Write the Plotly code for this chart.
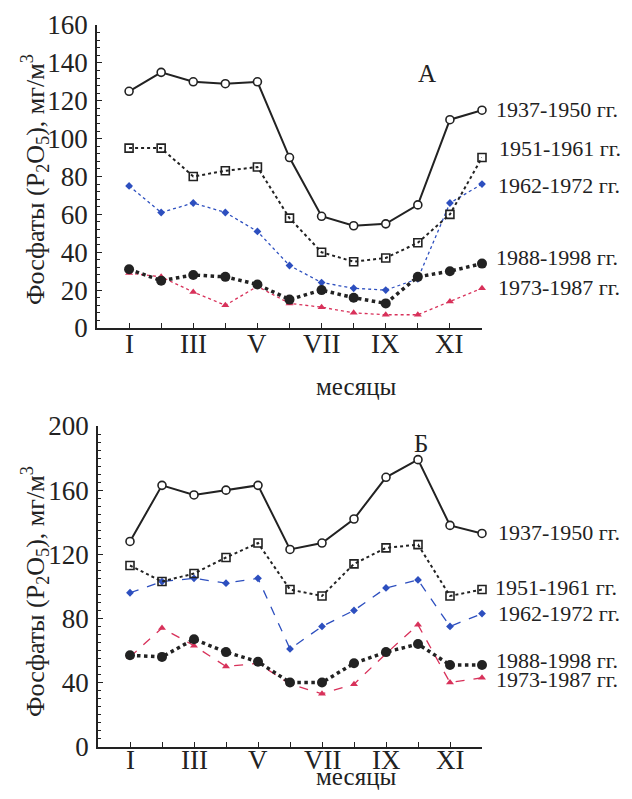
import plotly.graph_objects as go

PAGE_W, PAGE_H = 632, 799
OFF = 8  # default body margin of the html page
W, H = PAGE_W - 2 * OFF, PAGE_H - 2 * OFF

months = list(range(1, 13))
month_labels = ["I", "", "III", "", "V", "", "VII", "", "IX", "", "XI", ""]

# Panel A
a_1937 = [125, 135, 130, 129, 130, 90, 59, 54, 55, 65, 110, 115]
a_1951 = [95, 95, 80, 83, 85, 58, 40, 35, 37, 45, 60, 90]
a_1962 = [75, 61, 66, 61, 51, 33, 24, 21, 20, 26, 66, 76]
a_1988 = [31, 25, 28, 27, 23, 15, 20, 16, 13, 27, 30, 34]
a_1973 = [29, 27, 19, 12, 22, 13, 11, 8, 7, 7, 14, 21]

# Panel Б
b_1937 = [128, 163, 157, 160, 163, 123, 127, 142, 168, 179, 138, 133]
b_1951 = [113, 103, 108, 118, 127, 98, 94, 114, 124, 126, 94, 98]
b_1962 = [96, 103, 105, 102, 105, 61, 75, 85, 99, 104, 75, 83]
b_1988 = [57, 56, 67, 59, 53, 40, 40, 52, 59, 64, 51, 51]
b_1973 = [56, 74, 63, 50, 52, 39, 33, 39, 58, 76, 40, 43]

series_names = ["1937-1950 гг.", "1951-1961 гг.", "1962-1972 гг.", "1988-1998 гг.", "1973-1987 гг."]

FONT = "Liberation Serif"
BLUE = "#2d4fbf"
RED = "#d8315a"
BLK = "#222222"


def px(x):
    return (x - OFF) / W


def py(y):
    return 1 - (y - OFF) / H


fig = go.Figure()


def add_panel(xa, ya, data, dashed):
    s1937, s1951, s1962, s1988, s1973 = data
    thin_dash = "dash" if dashed else "dot"
    common = dict(x=months, xaxis=xa, yaxis=ya, mode="lines+markers",
                  showlegend=False, cliponaxis=False)
    fig.add_trace(go.Scatter(y=s1973, line=dict(color=RED, width=1.3, dash=thin_dash),
                             marker=dict(symbol="triangle-up", size=7, color=RED), **common))
    fig.add_trace(go.Scatter(y=s1962, line=dict(color=BLUE, width=1.3, dash=thin_dash),
                             marker=dict(symbol="diamond", size=6, color=BLUE), **common))
    fig.add_trace(go.Scatter(y=s1988, line=dict(color=BLK, width=3.5, dash="dot"),
                             marker=dict(symbol="circle", size=10, color=BLK), **common))
    fig.add_trace(go.Scatter(y=s1951, line=dict(color=BLK, width=2, dash="dot"),
                             marker=dict(symbol="square-open", size=8, color=BLK,
                                         line=dict(width=1.6)), **common))
    fig.add_trace(go.Scatter(y=s1937, line=dict(color=BLK, width=2),
                             marker=dict(symbol="circle", size=8, color="white",
                                         line=dict(color=BLK, width=1.6)), **common))


add_panel("x", "y", [a_1937, a_1951, a_1962, a_1988, a_1973], False)
add_panel("x2", "y2", [b_1937, b_1951, b_1962, b_1988, b_1973], True)

xcommon = dict(range=[0, 12], tickvals=months, showticklabels=False, ticks="inside",
               ticklen=5, tickcolor=BLK, showline=True, linecolor=BLK, linewidth=1.5,
               showgrid=False, zeroline=False)
ycommon = dict(ticks="inside", ticklen=5, tickcolor=BLK, showline=True, linecolor=BLK,
               linewidth=1.5, showgrid=False, zeroline=False, ticklabelstandoff=2,
               tickfont=dict(family=FONT, size=27, color=BLK),
               minor=dict(ticks="inside", ticklen=3, tickcolor=BLK, showgrid=False))

fig.update_layout(
    width=W, height=H,
    margin=dict(l=0, r=0, t=0, b=0, autoexpand=False),
    paper_bgcolor="white", plot_bgcolor="white",
    xaxis=dict(domain=[px(97), px(482)], anchor="y", **xcommon),
    yaxis=dict(domain=[py(328), py(25)], anchor="x", range=[0, 160], dtick=20, **ycommon),
    xaxis2=dict(domain=[px(98), px(482)], anchor="y2", **xcommon),
    yaxis2=dict(domain=[py(746.7), py(426)], anchor="x2", range=[0, 200], dtick=40, **ycommon),
)
fig.layout.yaxis.minor.dtick = 4
fig.layout.yaxis2.minor.dtick = 5

# month tick labels (placed on the x data scale)
for xref, yc in (("x", 344), ("x2", 760)):
    for m, lab in zip(months, month_labels):
        if lab:
            fig.add_annotation(x=m, xref=xref, y=py(yc), yref="paper", text=lab,
                               showarrow=False, xanchor="center", yanchor="middle",
                               borderpad=0, font=dict(family=FONT, size=27, color=BLK))

ann = []
ytitle = "Фосфаты (P<sub>2</sub>O<sub>5</sub>), мг/м<sup>3</sup>"
for yc in (180, 592):
    ann.append(dict(text=ytitle, x=px(35), y=py(yc), textangle=-90, size=26))
ann.append(dict(text="месяцы", x=px(356), y=py(386)))
ann.append(dict(text="месяцы", x=px(356), y=py(790.5), yanchor="bottom"))
ann.append(dict(text="А", x=px(427), y=py(73)))
ann.append(dict(text="Б", x=px(421), y=py(443)))

top_lab_y = [109, 148, 185, 257, 287]
top_lab_x = [495, 498, 497, 495, 497]
bot_lab_y = [532, 587, 613, 660, 679]
bot_lab_x = [497, 494, 497, 495, 495]
for name, xx, yy in zip(series_names, top_lab_x, top_lab_y):
    ann.append(dict(text=name, x=px(xx), y=py(yy), xanchor="left", size=22))
for name, xx, yy in zip(series_names, bot_lab_x, bot_lab_y):
    ann.append(dict(text=name, x=px(xx), y=py(yy), xanchor="left", size=22))

for a in ann:
    size = a.pop("size", 25)
    fig.add_annotation(xref="paper", yref="paper", showarrow=False,
                       xanchor=a.pop("xanchor", "center"), yanchor=a.pop("yanchor", "middle"),
                       borderpad=0,
                       font=dict(family=FONT, size=size, color=BLK), **a)

fig.write_html("out.html")
